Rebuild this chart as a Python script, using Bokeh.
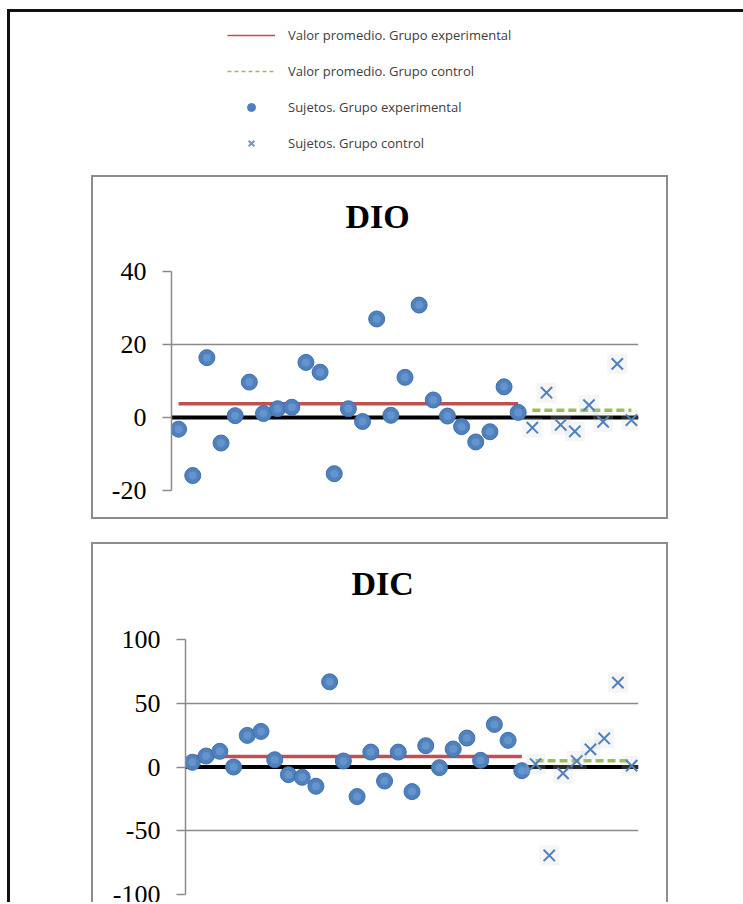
from bokeh.plotting import figure
from bokeh.layouts import column
from bokeh.models import Range1d, Span, Legend, LegendItem, FixedTicker, Title
from bokeh.embed import file_html
from bokeh.resources import INLINE

# ---------------- data ----------------
exp_ids = list(range(1, 26))     # subjects, experimental group
ctl_ids = list(range(26, 34))    # subjects, control group

dio_exp = [-3.2, -15.9, 16.4, -7.0, 0.5, 9.7, 1.1, 2.4, 2.8, 15.1, 12.4, -15.4, 2.4,
           -1.1, 27.0, 0.6, 11.0, 30.8, 4.8, 0.4, -2.5, -6.7, -3.9, 8.4, 1.4]
dio_ctl = [-2.8, 6.8, -2.0, -3.8, 3.4, -1.2, 14.7, -0.7]
dio_mean_exp = 3.8
dio_mean_ctl = 2.0
dio_ticks = [-20, 0, 20, 40]

dic_exp = [3.7, 8.6, 12.3, 0.0, 24.8, 27.9, 5.7, -6.0, -8.1, -15.1, 66.8, 4.7, -23.2,
           11.7, -11.0, 11.7, -19.3, 16.7, -0.5, 14.1, 22.7, 5.2, 33.4, 20.9, -2.9]
dic_ctl = [2.3, -69.4, -5.0, 4.7, 13.8, 22.4, 66.2, 1.0]
dic_mean_exp = 8.3
dic_mean_ctl = 5.0
dic_ticks = [-100, -50, 0, 50, 100]

legend_labels = ["Valor promedio. Grupo experimental",
                 "Valor promedio. Grupo control",
                 "Sujetos. Grupo experimental",
                 "Sujetos. Grupo control"]

RED = "#C0504D"
GREEN = "#9BBB59"
BLUE = "#4F81BD"
GRID = "#8a8a8a"
NAN = float("nan")


def chart(name, exp_vals, ctl_vals, m_e, m_c, ticks, left, top, height, bottom,
          title_off, gap):
    p = figure(width=577, height=height,
               x_range=Range1d(0.5, len(exp_ids) + len(ctl_ids) + 0.5),
               y_range=Range1d(ticks[0], ticks[-1]),
               x_axis_location=None, output_backend="svg", toolbar_location=None,
               min_border_left=left, min_border_right=32, min_border_top=top,
               min_border_bottom=bottom, title=name, frame_align=False)
    p.title.align = "left"
    p.title.vertical_align = "bottom"
    p.title.offset = title_off
    p.title.standoff = 0
    p.title.text_font = "Liberation Serif"
    p.title.text_font_size = "34px"
    p.title.text_font_style = "bold"
    p.title.text_color = "black"
    # blank spacer between the title and the plotting area
    p.add_layout(Title(text=" ", text_font_size="10px", standoff=gap), "above")
    p.outline_line_color = None
    p.background_fill_color = "white"
    p.border_fill_color = "white"
    for g in p.grid:
        if g.dimension == 0:
            g.visible = False
        else:
            g.grid_line_color = GRID
            g.grid_line_width = 1.5
    ax = p.yaxis[0]
    ax.ticker = FixedTicker(ticks=ticks)
    ax.major_label_overrides = {t: str(t) for t in ticks}
    ax.minor_tick_line_color = None
    ax.major_tick_out = 9
    ax.major_tick_in = 0
    ax.major_tick_line_color = GRID
    ax.major_tick_line_width = 1.5
    ax.axis_line_color = GRID
    ax.axis_line_width = 1.5
    ax.major_label_standoff = 16
    ax.major_label_text_font = "Liberation Serif"
    ax.major_label_text_font_size = "26px"
    ax.major_label_text_color = "black"

    p.add_layout(Span(location=0, dimension="width", line_color="black",
                      line_width=4, level="underlay"))

    p.line(x=[exp_ids[0], exp_ids[-1]], y=[m_e, m_e], line_color=RED, line_width=3.5)
    p.line(x=[ctl_ids[0], ctl_ids[-1]], y=[m_c, m_c], line_color=GREEN, line_width=3.5,
           line_dash="8 4")

    p.scatter(exp_ids, exp_vals, marker="circle", size=16, fill_color=BLUE,
              line_color="#3E6FAF", line_width=1)
    p.scatter(exp_ids, exp_vals, marker="circle", size=8, fill_color="#8FB4E6",
              fill_alpha=0.35, line_color=None)
    p.scatter(ctl_ids, ctl_vals, marker="square", size=20, fill_color="#cfcfcf",
              fill_alpha=0.2, line_color=None)
    p.scatter(ctl_ids, ctl_vals, marker="x", size=16, line_color=BLUE, line_width=2)
    return p


# ---------------- legend panel ----------------
leg = figure(width=733, height=163, x_range=Range1d(0, 1), y_range=Range1d(0, 1),
             output_backend="svg", toolbar_location=None,
             x_axis_location=None, y_axis_location=None, frame_align=False,
             min_border_left=217, min_border_top=13, min_border_right=0, min_border_bottom=0)
leg.outline_line_color = None
for g in leg.grid:
    g.visible = False
r1 = leg.line(x=[NAN], y=[NAN], line_color=RED, line_width=1.5)
r2 = leg.line(x=[NAN], y=[NAN], line_color=GREEN, line_width=1.5, line_dash="4 3")
r3 = leg.scatter(x=[NAN], y=[NAN], marker="circle", size=8, fill_color=BLUE, line_color=BLUE)
r4 = leg.scatter(x=[NAN], y=[NAN], marker="x", size=11, line_color="#8096B5", line_width=2)
legend = Legend(items=[LegendItem(label=legend_labels[i], renderers=[r])
                       for i, r in enumerate([r1, r2, r3, r4])],
                location="top_left", margin=0, padding=0, spacing=16,
                glyph_width=48, glyph_height=20, label_height=20, label_standoff=13,
                label_text_font="Open Sans", label_text_font_size="13px",
                label_text_color="#404040", border_line_color=None,
                background_fill_alpha=0)
leg.add_layout(legend)

p1 = chart("DIO", dio_exp, dio_ctl, dio_mean_exp, dio_mean_ctl, dio_ticks,
           left=78, top=94, height=344, bottom=31, title_off=174, gap=24)
p2 = chart("DIC", dic_exp, dic_ctl, dic_mean_exp, dic_mean_ctl, dic_ticks,
           left=92, top=95, height=360, bottom=10, title_off=166, gap=25)
p1.margin = (0, 0, 0, 81)
p2.margin = (23, 0, 0, 81)
p1.styles = {"border": "2px solid #8c8c8c"}
p2.styles = {"border": "2px solid #8c8c8c", "border-bottom": "none"}

lay = column(leg, p1, p2, margin=(9, 0, 0, 7),
             styles={"border-top": "3px solid #111", "border-left": "3px solid #111"})

open("out.html", "w").write(file_html(lay, INLINE))
